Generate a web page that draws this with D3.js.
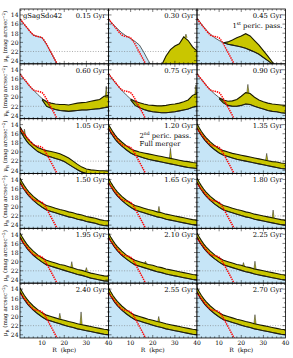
<!DOCTYPE html>
<html>
<head>
<meta charset="utf-8">
<script src="https://cdn.jsdelivr.net/npm/d3@7/dist/d3.min.js"></script>
<style>
  body { margin: 0; background: #fff; }
  text { font-family: "DejaVu Serif", serif; fill: #000; }
</style>
</head>
<body>
<svg id="chart" width="293" height="358"></svg>
<script>
// snapshot times, one per panel (row by row)
const times = ["0.15 Gyr", "0.30 Gyr", "0.45 Gyr", "0.60 Gyr", "0.75 Gyr", "0.90 Gyr",
  "1.05 Gyr", "1.20 Gyr", "1.35 Gyr", "1.50 Gyr", "1.65 Gyr", "1.80 Gyr",
  "1.95 Gyr", "2.10 Gyr", "2.25 Gyr", "2.40 Gyr", "2.55 Gyr", "2.70 Gyr"];

const yTicks = [14, 16, 18, 20, 22, 24];
const xTicks = [10, 20, 30, 40];

// initial profile (red)
const redR  = [0, 1, 2, 3, 4, 5, 6, 7, 8, 9, 10, 11, 12, 13, 14, 15, 16, 17];
const redMu = [14.9, 15.5, 16.1, 16.7, 17.3, 17.9, 18.4, 18.6, 18.7, 18.8, 19.0, 19.6, 20.4, 21.3, 22.2, 23.1, 24.0, 24.9];

// radius grid for the profiles below
const rGrid = [0, 1, 2, 3, 4, 6, 8, 10, 12, 14, 16, 18, 20, 22, 24, 26, 28, 30, 32, 34, 36, 38, 40];
const _ = null;

// black profile bounding the blue area (null = use lower band edge)
const blueMu = [
  [14.9, 15.5, 16.1, 16.7, 17.3, 18.4, 18.7, 19.0, 20.4, 22.2, 24.0, 25.8, _, _, _, _, _, _, _, _, _, _, _],
  [15.0, 15.5, 16.0, 16.5, 17.0, 17.9, 18.6, 19.2, 19.8, 20.6, 22.2, 24.0, 25.6, _, _, _, _, _, _, _, _, _, _],
  [14.6, 15.3, 16.0, 16.6, 17.2, 18.2, 19.0, 19.6, 20.1, 20.4, 20.6, 20.8, 21.0, 21.3, 21.7, 22.1, 22.6, 23.3, 24.0, 24.7, 25.5, _, _],
  [14.9, 15.6, 16.2, 16.8, 17.4, 18.4, 19.4, 20.3, 21.0, _, _, _, _, _, _, _, _, _, _, _, _, _, _],
  [14.8, 15.5, 16.2, 16.8, 17.4, 18.5, 19.5, 20.4, 21.1, _, _, _, _, _, _, _, _, _, _, _, _, _, _],
  [14.8, 15.5, 16.1, 16.7, 17.3, 18.4, 19.3, 20.1, 20.9, _, _, _, _, _, _, _, _, _, _, _, _, _, _],
  null, null, null, null, null, null, null, null, null, null, null, null
];

// bright (upper) edge of the yellow band
const bandHi = [
  [_, _, _, _, _, _, _, _, _, _, _, _, _, _, _, _, _, _, _, _, _, _, _],
  [_, _, _, _, _, _, _, _, _, _, _, _, _, _, 25.0, 23.0, 21.6, 20.8, 20.3, 18.8, 19.6, 21.0, 21.9],
  [_, _, _, _, _, _, _, _, 20.1, 19.9, 19.5, 19.0, 18.6, 18.1, 18.6, 19.6, 20.6, 21.8, 23.0, 24.3, 25.3, _, _],
  [_, _, _, _, _, _, _, 20.4, 21.0, 21.3, 21.5, 21.6, 21.6, 21.7, 21.5, 21.3, 21.2, 21.1, 20.9, 20.7, 20.5, 19.8, 19.6],
  [_, _, _, _, _, _, _, 20.4, 20.9, 21.2, 21.5, 21.7, 21.8, 21.9, 21.9, 21.8, 21.6, 21.5, 21.3, 21.0, 20.6, 19.6, 19.2],
  [_, _, _, _, _, _, _, 20.1, 20.6, 20.9, 20.8, 20.5, 19.8, 19.0, 19.2, 20.0, 20.6, 21.0, 21.3, 21.5, 21.6, 21.7, 21.8],
  [14.5, 15.3, 16.1, 16.8, 17.4, 18.3, 19.0, 19.4, 19.7, 19.9, 20.1, 20.4, 20.8, 21.3, 22.0, 22.7, 23.3, 23.7, 23.9, 24.0, 24.1, 24.1, 24.2],
  [14.0, 14.8, 15.6, 16.3, 16.9, 17.8, 18.6, 19.3, 19.7, 20.0, 20.2, 20.4, 20.6, 20.8, 21.0, 21.2, 21.4, 21.6, 21.8, 22.0, 22.1, 22.3, 22.4],
  [13.8, 14.7, 15.5, 16.2, 16.8, 17.8, 18.6, 19.3, 19.7, 20.0, 20.3, 20.5, 20.7, 20.9, 21.1, 21.3, 21.5, 21.7, 21.9, 22.1, 22.2, 22.4, 22.5],
  [13.7, 14.6, 15.4, 16.1, 16.7, 17.7, 18.5, 19.2, 19.7, 20.0, 20.3, 20.6, 20.8, 21.1, 21.3, 21.6, 21.8, 22.1, 22.3, 22.5, 22.8, 23.0, 23.1],
  [13.7, 14.6, 15.4, 16.1, 16.7, 17.7, 18.5, 19.2, 19.7, 20.0, 20.3, 20.6, 20.8, 21.1, 21.3, 21.6, 21.8, 22.0, 22.2, 22.4, 22.6, 22.8, 22.9],
  [13.7, 14.6, 15.4, 16.1, 16.7, 17.7, 18.5, 19.2, 19.7, 20.0, 20.3, 20.6, 20.8, 21.1, 21.3, 21.6, 21.8, 22.0, 22.2, 22.4, 22.6, 22.8, 22.9],
  [13.7, 14.6, 15.4, 16.1, 16.7, 17.7, 18.5, 19.2, 19.7, 20.0, 20.3, 20.6, 20.8, 21.1, 21.4, 21.7, 21.9, 22.2, 22.5, 22.7, 22.9, 23.1, 23.2],
  [13.7, 14.6, 15.4, 16.1, 16.7, 17.7, 18.5, 19.2, 19.7, 20.0, 20.3, 20.6, 20.8, 21.1, 21.3, 21.6, 21.8, 22.0, 22.2, 22.4, 22.6, 22.8, 22.9],
  [13.7, 14.6, 15.4, 16.1, 16.7, 17.7, 18.5, 19.2, 19.7, 20.0, 20.3, 20.6, 20.8, 21.1, 21.3, 21.6, 21.8, 22.0, 22.2, 22.4, 22.6, 22.8, 22.9],
  [13.7, 14.6, 15.4, 16.1, 16.7, 17.7, 18.5, 19.2, 19.7, 20.0, 20.3, 20.6, 20.8, 21.1, 21.3, 21.6, 21.8, 22.0, 22.2, 22.4, 22.6, 22.8, 22.9],
  [13.7, 14.6, 15.4, 16.1, 16.7, 17.7, 18.5, 19.2, 19.7, 20.0, 20.3, 20.6, 20.8, 21.1, 21.3, 21.6, 21.8, 22.0, 22.2, 22.4, 22.6, 22.8, 22.9],
  [13.7, 14.6, 15.4, 16.1, 16.7, 17.7, 18.5, 19.2, 19.7, 20.0, 20.3, 20.6, 20.8, 21.1, 21.3, 21.6, 21.8, 22.0, 22.2, 22.4, 22.6, 22.8, 22.9]
];

// faint (lower) edge of the yellow band
const bandLo = [
  [_, _, _, _, _, _, _, _, _, _, _, _, _, _, _, _, _, _, _, _, _, _, _],
  [_, _, _, _, _, _, _, _, _, _, _, _, _, _, 26, 26, 26, 26, 26, 26, 26, 26, 26],
  [_, _, _, _, _, _, _, _, 20.1, 20.4, 20.6, 20.8, 21.0, 21.3, 21.7, 22.1, 22.6, 23.3, 24.0, 24.7, 25.5, _, _],
  [_, _, _, _, _, _, _, 20.6, 22.0, 22.4, 22.7, 22.9, 23.0, 23.1, 23.0, 22.9, 22.8, 22.8, 22.7, 22.6, 22.5, 22.3, 22.2],
  [_, _, _, _, _, _, _, 20.6, 21.8, 22.3, 22.7, 23.0, 23.2, 23.3, 23.4, 23.4, 23.3, 23.2, 23.0, 22.8, 22.6, 22.2, 22.0],
  [_, _, _, _, _, _, _, 20.3, 21.3, 21.8, 22.0, 22.0, 21.8, 21.5, 21.6, 22.0, 22.3, 22.6, 22.9, 23.1, 23.2, 23.4, 23.5],
  [15.3, 16.1, 16.9, 17.6, 18.2, 19.1, 19.9, 20.4, 20.8, 21.1, 21.4, 21.7, 22.1, 22.7, 23.3, 23.9, 24.4, 24.7, 24.9, 25.0, 25.1, 25.1, 25.1],
  [14.9, 15.7, 16.5, 17.2, 17.8, 18.7, 19.5, 20.2, 20.7, 21.0, 21.3, 21.6, 21.8, 22.0, 22.2, 22.4, 22.6, 22.8, 23.0, 23.2, 23.4, 23.5, 23.6],
  [14.7, 15.6, 16.4, 17.1, 17.7, 18.7, 19.5, 20.2, 20.7, 21.0, 21.3, 21.6, 21.8, 22.0, 22.2, 22.4, 22.6, 22.8, 23.0, 23.2, 23.4, 23.6, 23.7],
  [14.6, 15.5, 16.3, 17.0, 17.6, 18.6, 19.4, 20.1, 20.7, 21.0, 21.3, 21.6, 21.9, 22.2, 22.4, 22.7, 22.9, 23.2, 23.4, 23.6, 23.9, 24.1, 24.2],
  [14.6, 15.5, 16.3, 17.0, 17.6, 18.6, 19.4, 20.1, 20.7, 21.0, 21.3, 21.6, 21.9, 22.2, 22.4, 22.7, 22.9, 23.1, 23.3, 23.5, 23.7, 23.9, 24.0],
  [14.6, 15.5, 16.3, 17.0, 17.6, 18.6, 19.4, 20.1, 20.7, 21.0, 21.3, 21.6, 21.9, 22.2, 22.4, 22.7, 22.9, 23.1, 23.3, 23.5, 23.7, 23.9, 24.0],
  [14.6, 15.5, 16.3, 17.0, 17.6, 18.6, 19.4, 20.1, 20.7, 21.0, 21.3, 21.6, 21.9, 22.2, 22.5, 22.8, 23.0, 23.3, 23.6, 23.8, 24.0, 24.2, 24.3],
  [14.6, 15.5, 16.3, 17.0, 17.6, 18.6, 19.4, 20.1, 20.7, 21.0, 21.3, 21.6, 21.9, 22.2, 22.4, 22.7, 22.9, 23.1, 23.3, 23.5, 23.7, 23.9, 24.0],
  [14.6, 15.5, 16.3, 17.0, 17.6, 18.6, 19.4, 20.1, 20.7, 21.0, 21.3, 21.6, 21.9, 22.2, 22.4, 22.7, 22.9, 23.1, 23.3, 23.5, 23.7, 23.9, 24.0],
  [14.6, 15.5, 16.3, 17.0, 17.6, 18.6, 19.4, 20.1, 20.7, 21.0, 21.3, 21.6, 21.9, 22.2, 22.4, 22.7, 22.9, 23.1, 23.3, 23.5, 23.7, 23.9, 24.0],
  [14.6, 15.5, 16.3, 17.0, 17.6, 18.6, 19.4, 20.1, 20.7, 21.0, 21.3, 21.6, 21.9, 22.2, 22.4, 22.7, 22.9, 23.1, 23.3, 23.5, 23.7, 23.9, 24.0],
  [14.6, 15.5, 16.3, 17.0, 17.6, 18.6, 19.4, 20.1, 20.7, 21.0, 21.3, 21.6, 21.9, 22.2, 22.4, 22.7, 22.9, 23.1, 23.3, 23.5, 23.7, 23.9, 24.0]
];

// narrow spikes on the band: [panel, R, base mu, peak mu]
const spikes = [
  [1, 35, 19.0, 18.2], [3, 39, 20.0, 17.6], [4, 39.5, 19.5, 17.3], [5, 23, 19.1, 17.2],
  [6, 2, 16.3, 15.0], [7, 28, 21.4, 19.2], [8, 31.5, 21.8, 20.3],
  [10, 22.8, 21.2, 19.9], [11, 34.4, 22.5, 20.7], [12, 23.4, 21.4, 20.0], [12, 30, 22.1, 21.3],
  [13, 16.7, 20.4, 19.9], [14, 21, 21.0, 20.2], [14, 26.2, 21.7, 19.9], [15, 18, 20.6, 19.3],
  [15, 27.6, 21.8, 19.0], [16, 22.7, 21.2, 20.0], [17, 26.2, 21.7, 19.6]
];

const svg = d3.select("#chart");
const x0 = 20, y0 = 9, pw = 88.5, ph = 54.83;
const blueCol = "#c6e5f7", bandCol = "#c9c600";

const x = d3.scaleLinear().domain([0, 40]).range([0, pw]);
const y = d3.scaleLinear().domain([12.7, 24.7]).range([0, ph]);

const defs = svg.append("defs");
defs.append("clipPath").attr("id", "panelClip")
  .append("rect").attr("width", pw).attr("height", ph);

times.forEach((t, i) => {
  const col = i % 3, row = Math.floor(i / 3);
  const g = svg.append("g").attr("transform", `translate(${x0 + col * pw},${y0 + row * ph})`);
  const inner = g.append("g").attr("clip-path", "url(#panelClip)");

  const blue = rGrid.map((r, j) => {
    const b = blueMu[i] ? blueMu[i][j] : null;
    return { r: r, mu: b != null ? b : bandLo[i][j] };
  });
  const band = rGrid.map((r, j) => ({ r: r, hi: bandHi[i][j], lo: bandLo[i][j] }));

  inner.append("path").datum(blue.filter((d) => d.mu != null))
    .attr("fill", blueCol)
    .attr("d", d3.area().x((d) => x(d.r)).y0(ph + 2).y1((d) => y(d.mu)));

  inner.append("line").attr("x1", 0).attr("x2", pw).attr("y1", y(22)).attr("y2", y(22))
    .attr("stroke", "#777").attr("stroke-width", 0.6).attr("stroke-dasharray", "1,1.6");

  const bandArea = d3.area().defined((d) => d.hi != null)
    .x((d) => x(d.r)).y0((d) => y(d.lo)).y1((d) => y(d.hi));
  inner.append("path").datum(band).attr("fill", bandCol).attr("d", bandArea);

  inner.selectAll(".spike").data(spikes.filter((s) => s[0] === i)).enter()
    .append("path")
    .attr("fill", bandCol).attr("stroke", "#222").attr("stroke-width", 0.5)
    .attr("d", (s) => `M${x(s[1] - 0.5)},${y(s[2])}L${x(s[1])},${y(s[3])}L${x(s[1] + 0.5)},${y(s[2])}`);

  const edge = (key) => d3.line().defined((d) => d[key] != null)
    .x((d) => x(d.r)).y((d) => y(d[key]));
  inner.append("path").datum(band).attr("fill", "none").attr("stroke", "#1a1a00")
    .attr("stroke-width", 1.1).attr("d", edge("hi"));
  inner.append("path").datum(band).attr("fill", "none").attr("stroke", "#1a1a00")
    .attr("stroke-width", 1.1).attr("d", edge("lo"));
  inner.append("path").datum(blue).attr("fill", "none").attr("stroke", "#222")
    .attr("stroke-width", 0.7).attr("d", edge("mu"));

  inner.append("path").datum(redR.map((r, j) => [r, redMu[j]]))
    .attr("fill", "none").attr("stroke", "#f00").attr("stroke-width", 1.5)
    .attr("stroke-dasharray", "1.4,0.9")
    .attr("d", d3.line().x((d) => x(d[0])).y((d) => y(d[1])));

  // frame and inward ticks
  g.append("rect").attr("width", pw).attr("height", ph)
    .attr("fill", "none").attr("stroke", "#000").attr("stroke-width", 0.8);
  const tk = g.append("g").attr("stroke", "#000").attr("stroke-width", 0.5);
  d3.range(13, 25).forEach((m) => {
    const len = m % 2 === 0 ? 3 : 1.6;
    tk.append("line").attr("x1", 0).attr("x2", len).attr("y1", y(m)).attr("y2", y(m));
    tk.append("line").attr("x1", pw).attr("x2", pw - len).attr("y1", y(m)).attr("y2", y(m));
  });
  d3.range(2, 40, 2).forEach((r) => {
    const len = r % 10 === 0 ? 3 : 1.6;
    tk.append("line").attr("x1", x(r)).attr("x2", x(r)).attr("y1", ph).attr("y2", ph - len);
    tk.append("line").attr("x1", x(r)).attr("x2", x(r)).attr("y1", 0).attr("y2", len);
  });

  g.append("text").attr("x", pw - 3).attr("y", 9).attr("text-anchor", "end")
    .attr("font-size", 6.8).text(t);

  if (col === 0) {
    yTicks.forEach((m) => {
      svg.append("text").attr("x", x0 - 1.5).attr("y", y0 + row * ph + y(m) + 2.3)
        .attr("text-anchor", "end").attr("font-size", 6).text(m);
    });
    const lab = svg.append("text")
      .attr("transform", `translate(7,${y0 + row * ph + ph / 2}) rotate(-90)`)
      .attr("text-anchor", "middle").attr("font-size", 5.6);
    lab.append("tspan").text("\u03bc");
    lab.append("tspan").attr("font-size", 4).attr("dy", 1.5).text("R");
    lab.append("tspan").attr("dy", -1.5).text(" (mag arcsec");
    lab.append("tspan").attr("font-size", 4).attr("dy", -2).text("\u22122");
    lab.append("tspan").attr("dy", 2).text(")");
  }
  if (row === 5) {
    xTicks.forEach((r) => {
      g.append("text").attr("x", x(r)).attr("y", ph + 7.5).attr("text-anchor", "middle")
        .attr("font-size", 6).text(r);
    });
    g.append("text").attr("x", pw / 2).attr("y", ph + 14.5).attr("text-anchor", "middle")
      .attr("font-size", 6).attr("xml:space", "preserve").text("R  (kpc)");
  }
  if (i === 0) {
    g.append("text").attr("x", 3).attr("y", 9).attr("font-size", 6.8).text("gSagSdo42");
  }
  if (i === 2) {
    const p = g.append("text").attr("x", pw - 3).attr("y", 18.5).attr("text-anchor", "end")
      .attr("font-size", 6.8);
    p.append("tspan").text("1");
    p.append("tspan").attr("font-size", 4.5).attr("dy", -2.5).text("st");
    p.append("tspan").attr("dy", 2.5).text(" peric. pass.");
  }
  if (i === 7) {
    const p = g.append("text").attr("x", 31).attr("y", 19).attr("font-size", 6.8);
    p.append("tspan").text("2");
    p.append("tspan").attr("font-size", 4.5).attr("dy", -2.5).text("nd");
    p.append("tspan").attr("dy", 2.5).text(" peric. pass.");
    g.append("text").attr("x", 31).attr("y", 27.5).attr("font-size", 6.8).text("Full merger");
  }
});
</script>
</body>
</html>
